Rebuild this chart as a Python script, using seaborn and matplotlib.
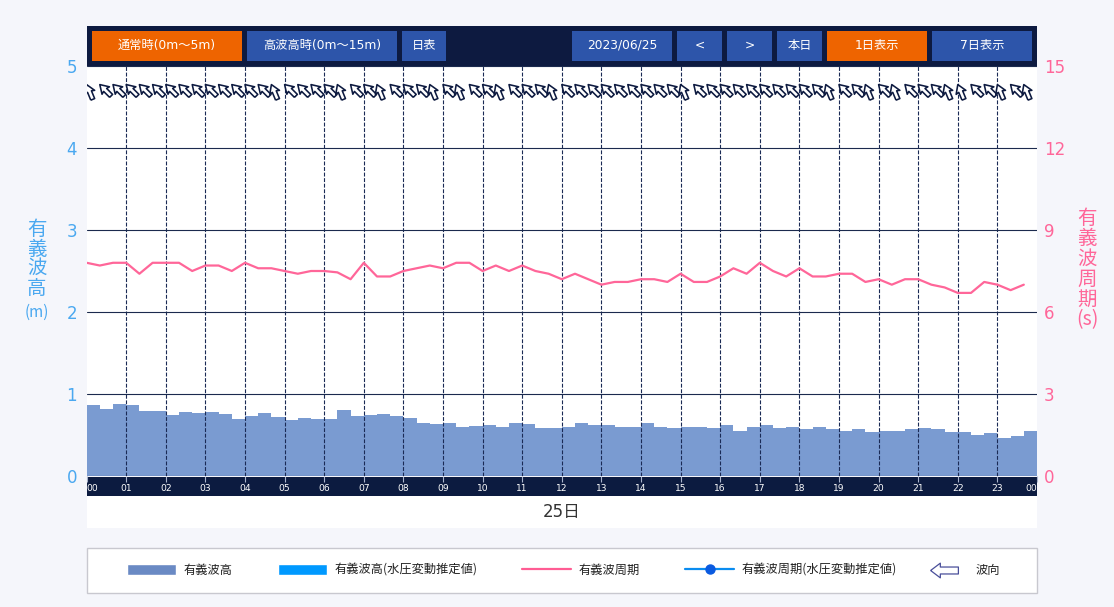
import numpy as np
import pandas as pd
import matplotlib
matplotlib.use("Agg")
import matplotlib.pyplot as plt
from matplotlib.lines import Line2D
from matplotlib.patches import Patch, Rectangle
from matplotlib.path import Path
import seaborn as sns

# 20 minute readings for 2023/06/25
wave_height = [
    .87, .82, .88, .87, .80, .80, .75, .78, .775, .78, .76, .70,
    .735, .775, .725, .685, .715, .70, .70, .81, .735, .75, .76, .735,
    .715, .655, .64, .655, .605, .615, .625, .605, .655, .64, .59, .59,
    .595, .645, .63, .625, .605, .605, .655, .605, .59, .605, .595, .59,
    .625, .55, .595, .625, .59, .595, .575, .605, .575, .55, .575, .535,
    .555, .555, .575, .59, .57, .535, .535, .505, .53, .465, .485, .55,
]
wave_period = [
    7.8, 7.7, 7.8, 7.8, 7.4, 7.8, 7.8, 7.8, 7.5, 7.7, 7.7, 7.5,
    7.8, 7.6, 7.6, 7.5, 7.4, 7.5, 7.5, 7.45, 7.2, 7.8, 7.3, 7.3,
    7.5, 7.6, 7.7, 7.6, 7.8, 7.8, 7.5, 7.7, 7.5, 7.7, 7.5, 7.4,
    7.2, 7.4, 7.2, 7.0, 7.1, 7.1, 7.2, 7.2, 7.1, 7.4, 7.1, 7.1,
    7.3, 7.6, 7.4, 7.8, 7.5, 7.3, 7.6, 7.3, 7.3, 7.4, 7.4, 7.1,
    7.2, 7.0, 7.2, 7.2, 7.0, 6.9, 6.7, 6.7, 7.1, 7.0, 6.8, 7.0,
]
# wave direction in degrees, 315 = NW, 337.5 = NNW
wave_dir = [
    337.5, 315, 315, 315, 315, 315, 315, 315, 315, 315, 315, 315,
    315, 315, 337.5, 315, 315, 315, 315, 337.5, 315, 315, 337.5, 315,
    315, 315, 337.5, 315, 337.5, 315, 315, 337.5, 315, 315, 315, 337.5,
    315, 315, 315, 315, 315, 315, 315, 315, 315, 337.5, 315, 315,
    315, 315, 315, 315, 315, 315, 315, 315, 337.5, 315, 315, 337.5,
    315, 337.5, 315, 315, 315, 337.5, 337.5, 315, 315, 337.5, 315, 337.5,
]
hour_labels = [f"{h:02d}" for h in range(24)] + ["00"]
height_ticks = [0, 1, 2, 3, 4, 5]
period_ticks = [0, 3, 6, 9, 12, 15]
buttons = ["通常時(0m～5m)", "高波高時(0m～15m)", "日表", "2023/06/25", "<", ">", "本日", "1日表示", "7日表示"]
button_left = [92, 247, 402, 572, 677, 727, 777, 827, 932]
button_width = [150, 150, 44, 100, 45, 45, 45, 100, 100]
button_on = [True, False, False, False, False, False, False, True, False]
legend_labels = ["有義波高", "有義波高(水圧変動推定値)", "有義波周期", "有義波周期(水圧変動推定値)"]
arrow_label = "波向"

NAVY = "#0d1a40"
BLUE_TXT = "#4aa8f0"
PINK = "#ff6699"
CJK = "Noto Sans CJK JP"
W, H = 1114, 607

sns.set_theme(style="white")
# digits look wider in the source, so DejaVu goes first and kanji fall through
plt.rcParams["font.family"] = ["DejaVu Sans", CJK]

df = pd.DataFrame({"height": wave_height, "period": wave_period, "dir": wave_dir})
df["hour"] = df.index / 3

fig = plt.figure(figsize=(W / 100, H / 100), dpi=100, facecolor="#f5f6fb")


def px_box(x, y, w, h, **kw):
    # rectangle on the figure, pixels from the top left
    fig.add_artist(Rectangle((x / W, 1 - (y + h) / H), w / W, h / H,
                             transform=fig.transFigure, linewidth=kw.pop("lw", 0), zorder=kw.pop("z", -1), **kw))


px_box(87, 26, 950, 40, facecolor=NAVY)
px_box(87, 477, 950, 19, facecolor="#0c1b40")
px_box(87, 496, 950, 32, facecolor="white")
for label, x, w, on in zip(buttons, button_left, button_width, button_on):
    px_box(x, 31, w, 30, facecolor="#ee6400" if on else "#2d55aa", z=1)
    fig.text((x + w / 2) / W, 1 - 45.5 / H, label, color="white", fontsize=8.8, ha="center", va="center", zorder=2)

ax = fig.add_axes([86.6 / W, (H - 476.3) / H, 950.4 / W, 410.6 / H])
ax.set_facecolor("white")
ax.patch.set_zorder(-2)
sns.histplot(data=df, x=df["hour"] + 1 / 6, weights="height", bins=72, binrange=(0, 24),
             color="#7a9bd1", alpha=1, linewidth=0, ax=ax)
ax.set_xlim(0, 24)
ax.set_ylim(0, 5)
ax.set_xlabel("")
ax.set_ylabel("")
ax.set_xticks(range(25), hour_labels, fontsize=6.6, color="white")
ax.set_yticks(height_ticks, height_ticks, fontsize=12, color=BLUE_TXT)
ax.tick_params(axis="x", length=4.3, width=0.8, color="#aab4cc", pad=1.6, bottom=True)
ax.tick_params(axis="y", length=0, pad=7)
ax.grid(True, axis="y", color="#1b2a4e", linewidth=0.8)
ax.grid(True, axis="x", color="#1a2a55", linewidth=0.8, linestyle=(0, (3.5, 1.5)))
ax.set_axisbelow(False)
xgrid = ax.get_xgridlines()
xgrid[0].set_visible(False)
xgrid[-1].set_visible(False)
xlabels = ax.get_xticklabels()
xlabels[0].set_ha("left")
xlabels[-1].set_ha("right")
sns.despine(ax=ax, left=True, bottom=True, top=True, right=True)

# arrows hang from their tip, so NNW ones drop lower than NW ones
theta = np.deg2rad(df["dir"])
ax.quiver(df["hour"], [4.77] * len(df), 16 * np.sin(theta), 16 * np.cos(theta),
          angles="uv", scale_units="dots", units="dots", scale=1, pivot="tip", width=4.2,
          headwidth=2.5, headlength=2.0, headaxislength=1.8,
          facecolor="white", edgecolor=NAVY, linewidth=1.15, zorder=5)

ax2 = ax.twinx()
sns.lineplot(data=df, x="hour", y="period", color=PINK, linewidth=1.6, ax=ax2)
ax2.set_ylim(0, 15)
ax2.set_xlim(0, 24)
ax2.set_ylabel("")
ax2.set_yticks(period_ticks, period_ticks, fontsize=12, color=PINK)
ax2.tick_params(axis="y", length=0, pad=5)
ax2.grid(False)
sns.despine(ax=ax2, left=True, bottom=True, top=True, right=True)

fig.text(37 / W, 1 - 259 / H, "有\n義\n波\n高", color=BLUE_TXT, fontsize=14, family=CJK,
         ha="center", va="center", linespacing=0.9)
fig.text(37 / W, 1 - 312 / H, "(m)", color=BLUE_TXT, fontsize=11, family=CJK, ha="center", va="center")
fig.text(1087 / W, 1 - 269 / H, "有\n義\n波\n周\n期\n(s)", color=PINK, fontsize=14, family=CJK,
         ha="center", va="center", linespacing=0.95)
fig.text(562 / W, 1 - 512 / H, "25日", color="#333333", fontsize=12, ha="center", va="center")

# legend box and entries
px_box(87, 548, 950, 45, facecolor="white", edgecolor="#c8c8cf", lw=1, z=-1)
handles = [
    Patch(facecolor="#6a8ac4"),
    Patch(facecolor="#0099ff"),
    Line2D([], [], color="#ff5c93", linewidth=1.6),
    Line2D([], [], color="#0a8cf0", linewidth=1.6, marker="o", markersize=6.5, markerfacecolor="#0a5ae0", markeredgecolor="#0a5ae0"),
]
left_legend = fig.legend(handles, legend_labels, ncol=4, frameon=False, loc="center left", prop={"family": CJK, "size": 8.8},
                         bbox_to_anchor=(127 / W, 1 - 570.5 / H), borderpad=0, borderaxespad=0, handlelength=4.0, handleheight=1.0,
                         handletextpad=0.62, columnspacing=3.7, labelcolor="#222222", numpoints=1)

arrow_mark = Path([(-1, 0), (-.3, .53), (-.3, .25), (1, .25), (1, -.25), (-.3, -.25), (-.3, -.53), (-1, 0)])
arrow_handle = Line2D([], [], linestyle="none", marker=arrow_mark, markersize=20, markerfacecolor="white",
                      markeredgecolor="#4a4f9a", markeredgewidth=0.9)
fig.legend([arrow_handle], [arrow_label], frameon=False, loc="center left", prop={"family": CJK, "size": 8.8},
           bbox_to_anchor=(930 / W, 1 - 570.5 / H), borderpad=0, borderaxespad=0, handlelength=2.3,
           handletextpad=1.4, labelcolor="#222222", numpoints=1)

fig.savefig("out.png", dpi=100, facecolor=fig.get_facecolor())
